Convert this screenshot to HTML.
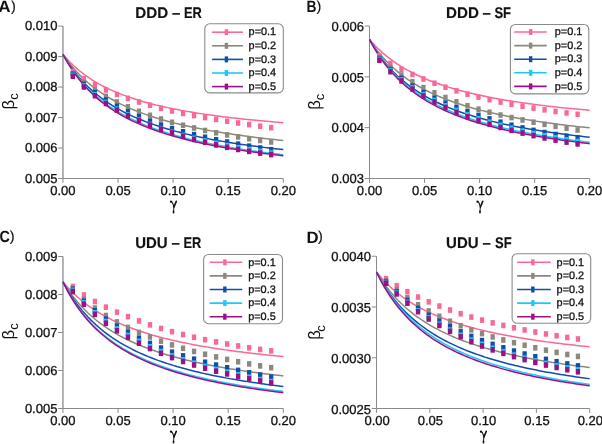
<!DOCTYPE html><html><head><meta charset="utf-8"><style>html,body{margin:0;padding:0;background:#fff;width:602px;height:444px;overflow:hidden}</style></head><body><svg width="602" height="444" viewBox="0 0 602 444" text-rendering="geometricPrecision" style="position:absolute;left:0;top:0;will-change:transform">
<rect width="602" height="444" fill="#fff"/>
<g stroke="#8a8a8a" fill="none">
<path d="M62.95,26.1V178.5" stroke-width="1.3"/>
<path d="M62.95,178.5H283.3" stroke-width="1.0"/>
<path d="M58.15,178.50H62.95" stroke-width="1.0"/>
<path d="M58.15,148.02H62.95" stroke-width="1.0"/>
<path d="M58.15,117.54H62.95" stroke-width="1.0"/>
<path d="M58.15,87.06H62.95" stroke-width="1.0"/>
<path d="M58.15,56.58H62.95" stroke-width="1.0"/>
<path d="M58.15,26.10H62.95" stroke-width="1.0"/>
<path d="M62.95,178.5V182.90" stroke-width="1.0"/>
<path d="M118.04,178.5V182.90" stroke-width="1.0"/>
<path d="M173.12,178.5V182.90" stroke-width="1.0"/>
<path d="M228.21,178.5V182.90" stroke-width="1.0"/>
<path d="M283.30,178.5V182.90" stroke-width="1.0"/>
</g>
<g font-family='"Liberation Sans", sans-serif' font-size="13" fill="#111" stroke="#111" stroke-width="0.3">
<text x="57.45" y="182.80" text-anchor="end">0.005</text>
<text x="57.45" y="152.32" text-anchor="end">0.006</text>
<text x="57.45" y="121.84" text-anchor="end">0.007</text>
<text x="57.45" y="91.36" text-anchor="end">0.008</text>
<text x="57.45" y="60.88" text-anchor="end">0.009</text>
<text x="57.45" y="30.40" text-anchor="end">0.010</text>
<text x="62.95" y="194.80" text-anchor="middle">0.00</text>
<text x="118.04" y="194.80" text-anchor="middle">0.05</text>
<text x="173.12" y="194.80" text-anchor="middle">0.10</text>
<text x="228.21" y="194.80" text-anchor="middle">0.15</text>
<text x="283.30" y="194.80" text-anchor="middle">0.20</text>
</g>
<text x="135.25" y="17.7" font-family='"Liberation Sans", sans-serif' font-weight="bold" font-size="15.5" fill="#111" stroke="#111" stroke-width="0.15" textLength="32.85" lengthAdjust="spacingAndGlyphs">DDD</text>
<text x="172.10" y="17.7" font-family='"Liberation Sans", sans-serif' font-weight="bold" font-size="15.5" fill="#111" stroke="#111" stroke-width="0.15" textLength="8.30" lengthAdjust="spacingAndGlyphs">–</text>
<text x="184.00" y="17.7" font-family='"Liberation Sans", sans-serif' font-weight="bold" font-size="15.5" fill="#111" stroke="#111" stroke-width="0.15" textLength="17.85" lengthAdjust="spacingAndGlyphs">ER</text>
<text x="-1.70" y="11.9" font-family='"Liberation Sans", sans-serif' font-weight="bold" font-size="16.3" fill="#111" textLength="12.30" lengthAdjust="spacingAndGlyphs">A</text>
<text x="10.9" y="10.9" font-family='"Liberation Sans", sans-serif' font-size="14.5" fill="#111" stroke="#111" stroke-width="0.15">)</text>
<g transform="translate(173.53,200.40)" fill="none" stroke="#111" stroke-linecap="round"><circle cx="-2.55" cy="1.3" r="1.1" fill="#111" stroke="none"/><path d="M-2.6,1.2C-1.3,1.2 -0.4,3.2 0.3,6.6" stroke-width="1.1"/><path d="M2.75,0.95L0.45,6.6" stroke-width="1.6"/><path d="M0.35,6.6L0.05,10.5" stroke-width="0.95"/><ellipse cx="0.0" cy="11.5" rx="0.9" ry="1.55" fill="#111" stroke="none"/></g>
<text transform="translate(13.5,101.4) rotate(-90)" font-family='"Liberation Sans", sans-serif' font-size="16.7" fill="#111" text-anchor="middle">β<tspan font-size="13.0" dx="0" dy="4.5">c</tspan></text>
<polyline points="62.95,54.30 65.70,57.52 68.46,60.53 71.21,63.33 73.97,65.96 76.72,68.43 79.48,70.75 82.23,72.94 84.99,75.00 87.74,76.95 90.49,78.80 93.25,80.55 96.00,82.21 98.76,83.80 101.51,85.30 104.27,86.73 107.02,88.10 109.77,89.41 112.53,90.66 115.28,91.85 118.04,93.00 120.79,94.10 123.55,95.15 126.30,96.16 129.06,97.13 131.81,98.07 134.56,98.97 137.32,99.84 140.07,100.68 142.83,101.48 145.58,102.26 148.34,103.01 151.09,103.74 153.84,104.44 156.60,105.12 159.35,105.78 162.11,106.42 164.86,107.04 167.62,107.64 170.37,108.22 173.12,108.78 175.88,109.33 178.63,109.86 181.39,110.38 184.14,110.88 186.90,111.37 189.65,111.84 192.41,112.31 195.16,112.76 197.91,113.19 200.67,113.62 203.42,114.04 206.18,114.44 208.93,114.84 211.69,115.22 214.44,115.60 217.20,115.97 219.95,116.33 222.70,116.68 225.46,117.02 228.21,117.35 230.97,117.68 233.72,118.00 236.48,118.31 239.23,118.62 241.98,118.92 244.74,119.21 247.49,119.50 250.25,119.78 253.00,120.05 255.76,120.32 258.51,120.59 261.26,120.85 264.02,121.10 266.77,121.35 269.53,121.59 272.28,121.83 275.04,122.06 277.79,122.29 280.55,122.52 283.30,122.74" fill="none" stroke="#fc6896" stroke-width="1.5"/>
<polyline points="62.95,54.30 65.70,58.30 68.46,62.03 71.21,65.52 73.97,68.79 76.72,71.87 79.48,74.77 82.23,77.50 84.99,80.08 87.74,82.52 90.49,84.84 93.25,87.03 96.00,89.12 98.76,91.10 101.51,93.00 104.27,94.80 107.02,96.52 109.77,98.17 112.53,99.74 115.28,101.25 118.04,102.69 120.79,104.08 123.55,105.41 126.30,106.69 129.06,107.91 131.81,109.10 134.56,110.24 137.32,111.34 140.07,112.39 142.83,113.42 145.58,114.40 148.34,115.36 151.09,116.28 153.84,117.17 156.60,118.03 159.35,118.87 162.11,119.68 164.86,120.46 167.62,121.22 170.37,121.96 173.12,122.68 175.88,123.38 178.63,124.05 181.39,124.71 184.14,125.35 186.90,125.97 189.65,126.57 192.41,127.16 195.16,127.74 197.91,128.29 200.67,128.84 203.42,129.37 206.18,129.88 208.93,130.39 211.69,130.88 214.44,131.36 217.20,131.83 219.95,132.29 222.70,132.73 225.46,133.17 228.21,133.60 230.97,134.02 233.72,134.42 236.48,134.82 239.23,135.21 241.98,135.59 244.74,135.97 247.49,136.34 250.25,136.69 253.00,137.04 255.76,137.39 258.51,137.73 261.26,138.06 264.02,138.38 266.77,138.70 269.53,139.01 272.28,139.31 275.04,139.61 277.79,139.91 280.55,140.20 283.30,140.48" fill="none" stroke="#8c897b" stroke-width="1.5"/>
<polyline points="62.95,54.30 65.70,58.91 68.46,63.20 71.21,67.19 73.97,70.92 76.72,74.42 79.48,77.70 82.23,80.79 84.99,83.70 87.74,86.44 90.49,89.04 93.25,91.49 96.00,93.82 98.76,96.03 101.51,98.13 104.27,100.13 107.02,102.04 109.77,103.86 112.53,105.59 115.28,107.25 118.04,108.84 120.79,110.37 123.55,111.83 126.30,113.23 129.06,114.57 131.81,115.87 134.56,117.11 137.32,118.31 140.07,119.46 142.83,120.57 145.58,121.64 148.34,122.68 151.09,123.68 153.84,124.65 156.60,125.58 159.35,126.48 162.11,127.36 164.86,128.21 167.62,129.03 170.37,129.82 173.12,130.60 175.88,131.35 178.63,132.07 181.39,132.78 184.14,133.47 186.90,134.13 189.65,134.78 192.41,135.42 195.16,136.03 197.91,136.63 200.67,137.21 203.42,137.78 206.18,138.33 208.93,138.87 211.69,139.40 214.44,139.91 217.20,140.41 219.95,140.90 222.70,141.37 225.46,141.84 228.21,142.30 230.97,142.74 233.72,143.17 236.48,143.60 239.23,144.01 241.98,144.42 244.74,144.82 247.49,145.21 250.25,145.59 253.00,145.96 255.76,146.33 258.51,146.68 261.26,147.03 264.02,147.38 266.77,147.71 269.53,148.04 272.28,148.37 275.04,148.68 277.79,149.00 280.55,149.30 283.30,149.60" fill="none" stroke="#0f4fab" stroke-width="1.5"/>
<polyline points="62.95,54.30 65.70,59.17 68.46,63.70 71.21,67.92 73.97,71.86 76.72,75.56 79.48,79.02 82.23,82.28 84.99,85.34 87.74,88.24 90.49,90.97 93.25,93.56 96.00,96.02 98.76,98.35 101.51,100.56 104.27,102.67 107.02,104.68 109.77,106.60 112.53,108.43 115.28,110.17 118.04,111.85 120.79,113.45 123.55,114.99 126.30,116.46 129.06,117.88 131.81,119.24 134.56,120.55 137.32,121.81 140.07,123.02 142.83,124.19 145.58,125.32 148.34,126.41 151.09,127.46 153.84,128.48 156.60,129.46 159.35,130.41 162.11,131.33 164.86,132.23 167.62,133.09 170.37,133.93 173.12,134.74 175.88,135.53 178.63,136.29 181.39,137.04 184.14,137.76 186.90,138.46 189.65,139.14 192.41,139.81 195.16,140.45 197.91,141.08 200.67,141.69 203.42,142.29 206.18,142.87 208.93,143.44 211.69,143.99 214.44,144.53 217.20,145.05 219.95,145.57 222.70,146.07 225.46,146.56 228.21,147.04 230.97,147.50 233.72,147.96 236.48,148.41 239.23,148.84 241.98,149.27 244.74,149.69 247.49,150.10 250.25,150.50 253.00,150.89 255.76,151.27 258.51,151.65 261.26,152.01 264.02,152.38 266.77,152.73 269.53,153.08 272.28,153.42 275.04,153.75 277.79,154.08 280.55,154.40 283.30,154.71" fill="none" stroke="#20c8f8" stroke-width="1.5"/>
<polyline points="62.95,54.30 65.70,59.37 68.46,64.06 71.21,68.43 73.97,72.50 76.72,76.30 79.48,79.85 82.23,83.19 84.99,86.33 87.74,89.28 90.49,92.07 93.25,94.71 96.00,97.20 98.76,99.56 101.51,101.81 104.27,103.94 107.02,105.97 109.77,107.90 112.53,109.75 115.28,111.51 118.04,113.19 120.79,114.80 123.55,116.34 126.30,117.82 129.06,119.24 131.81,120.60 134.56,121.91 137.32,123.17 140.07,124.38 142.83,125.55 145.58,126.68 148.34,127.76 151.09,128.81 153.84,129.82 156.60,130.80 159.35,131.75 162.11,132.66 164.86,133.55 167.62,134.40 170.37,135.23 173.12,136.04 175.88,136.82 178.63,137.58 181.39,138.31 184.14,139.03 186.90,139.72 189.65,140.40 192.41,141.05 195.16,141.69 197.91,142.31 200.67,142.91 203.42,143.50 206.18,144.08 208.93,144.63 211.69,145.18 214.44,145.71 217.20,146.23 219.95,146.73 222.70,147.23 225.46,147.71 228.21,148.18 230.97,148.64 233.72,149.09 236.48,149.53 239.23,149.96 241.98,150.37 244.74,150.79 247.49,151.19 250.25,151.58 253.00,151.96 255.76,152.34 258.51,152.71 261.26,153.07 264.02,153.42 266.77,153.77 269.53,154.11 272.28,154.44 275.04,154.77 277.79,155.09 280.55,155.40 283.30,155.71" fill="none" stroke="#a00e85" stroke-width="1.5"/>
<rect x="70.72" y="68.70" width="4.3" height="5.6" fill="#fc6896"/>
<rect x="81.74" y="76.10" width="4.3" height="5.6" fill="#fc6896"/>
<rect x="92.75" y="81.99" width="4.3" height="5.6" fill="#fc6896"/>
<rect x="103.77" y="87.15" width="4.3" height="5.6" fill="#fc6896"/>
<rect x="114.79" y="91.60" width="4.3" height="5.6" fill="#fc6896"/>
<rect x="125.81" y="95.56" width="4.3" height="5.6" fill="#fc6896"/>
<rect x="136.82" y="99.19" width="4.3" height="5.6" fill="#fc6896"/>
<rect x="147.84" y="102.51" width="4.3" height="5.6" fill="#fc6896"/>
<rect x="158.86" y="105.51" width="4.3" height="5.6" fill="#fc6896"/>
<rect x="169.88" y="108.20" width="4.3" height="5.6" fill="#fc6896"/>
<rect x="180.89" y="110.59" width="4.3" height="5.6" fill="#fc6896"/>
<rect x="191.91" y="112.75" width="4.3" height="5.6" fill="#fc6896"/>
<rect x="202.93" y="114.73" width="4.3" height="5.6" fill="#fc6896"/>
<rect x="213.95" y="116.59" width="4.3" height="5.6" fill="#fc6896"/>
<rect x="224.96" y="118.40" width="4.3" height="5.6" fill="#fc6896"/>
<rect x="235.98" y="120.16" width="4.3" height="5.6" fill="#fc6896"/>
<rect x="247.00" y="121.83" width="4.3" height="5.6" fill="#fc6896"/>
<rect x="258.01" y="123.41" width="4.3" height="5.6" fill="#fc6896"/>
<rect x="269.03" y="124.90" width="4.3" height="5.6" fill="#fc6896"/>
<rect x="70.72" y="70.70" width="4.3" height="5.6" fill="#8c897b"/>
<rect x="81.74" y="79.73" width="4.3" height="5.6" fill="#8c897b"/>
<rect x="92.75" y="87.08" width="4.3" height="5.6" fill="#8c897b"/>
<rect x="103.77" y="93.57" width="4.3" height="5.6" fill="#8c897b"/>
<rect x="114.79" y="99.15" width="4.3" height="5.6" fill="#8c897b"/>
<rect x="125.81" y="104.03" width="4.3" height="5.6" fill="#8c897b"/>
<rect x="136.82" y="108.49" width="4.3" height="5.6" fill="#8c897b"/>
<rect x="147.84" y="112.54" width="4.3" height="5.6" fill="#8c897b"/>
<rect x="158.86" y="116.21" width="4.3" height="5.6" fill="#8c897b"/>
<rect x="169.88" y="119.50" width="4.3" height="5.6" fill="#8c897b"/>
<rect x="180.89" y="122.47" width="4.3" height="5.6" fill="#8c897b"/>
<rect x="191.91" y="125.18" width="4.3" height="5.6" fill="#8c897b"/>
<rect x="202.93" y="127.67" width="4.3" height="5.6" fill="#8c897b"/>
<rect x="213.95" y="129.96" width="4.3" height="5.6" fill="#8c897b"/>
<rect x="224.96" y="132.10" width="4.3" height="5.6" fill="#8c897b"/>
<rect x="235.98" y="134.10" width="4.3" height="5.6" fill="#8c897b"/>
<rect x="247.00" y="135.96" width="4.3" height="5.6" fill="#8c897b"/>
<rect x="258.01" y="137.67" width="4.3" height="5.6" fill="#8c897b"/>
<rect x="269.03" y="139.20" width="4.3" height="5.6" fill="#8c897b"/>
<rect x="70.72" y="71.50" width="4.3" height="5.6" fill="#0f4fab"/>
<rect x="81.74" y="81.62" width="4.3" height="5.6" fill="#0f4fab"/>
<rect x="92.75" y="89.93" width="4.3" height="5.6" fill="#0f4fab"/>
<rect x="103.77" y="97.29" width="4.3" height="5.6" fill="#0f4fab"/>
<rect x="114.79" y="103.55" width="4.3" height="5.6" fill="#0f4fab"/>
<rect x="125.81" y="108.94" width="4.3" height="5.6" fill="#0f4fab"/>
<rect x="136.82" y="113.84" width="4.3" height="5.6" fill="#0f4fab"/>
<rect x="147.84" y="118.27" width="4.3" height="5.6" fill="#0f4fab"/>
<rect x="158.86" y="122.25" width="4.3" height="5.6" fill="#0f4fab"/>
<rect x="169.88" y="125.80" width="4.3" height="5.6" fill="#0f4fab"/>
<rect x="180.89" y="128.98" width="4.3" height="5.6" fill="#0f4fab"/>
<rect x="191.91" y="131.86" width="4.3" height="5.6" fill="#0f4fab"/>
<rect x="202.93" y="134.49" width="4.3" height="5.6" fill="#0f4fab"/>
<rect x="213.95" y="136.92" width="4.3" height="5.6" fill="#0f4fab"/>
<rect x="224.96" y="139.20" width="4.3" height="5.6" fill="#0f4fab"/>
<rect x="235.98" y="141.36" width="4.3" height="5.6" fill="#0f4fab"/>
<rect x="247.00" y="143.37" width="4.3" height="5.6" fill="#0f4fab"/>
<rect x="258.01" y="145.22" width="4.3" height="5.6" fill="#0f4fab"/>
<rect x="269.03" y="146.90" width="4.3" height="5.6" fill="#0f4fab"/>
<rect x="70.72" y="72.60" width="4.3" height="5.6" fill="#20c8f8"/>
<rect x="81.74" y="83.20" width="4.3" height="5.6" fill="#20c8f8"/>
<rect x="92.75" y="91.93" width="4.3" height="5.6" fill="#20c8f8"/>
<rect x="103.77" y="99.68" width="4.3" height="5.6" fill="#20c8f8"/>
<rect x="114.79" y="106.25" width="4.3" height="5.6" fill="#20c8f8"/>
<rect x="125.81" y="111.91" width="4.3" height="5.6" fill="#20c8f8"/>
<rect x="136.82" y="117.07" width="4.3" height="5.6" fill="#20c8f8"/>
<rect x="147.84" y="121.72" width="4.3" height="5.6" fill="#20c8f8"/>
<rect x="158.86" y="125.86" width="4.3" height="5.6" fill="#20c8f8"/>
<rect x="169.88" y="129.50" width="4.3" height="5.6" fill="#20c8f8"/>
<rect x="180.89" y="132.70" width="4.3" height="5.6" fill="#20c8f8"/>
<rect x="191.91" y="135.58" width="4.3" height="5.6" fill="#20c8f8"/>
<rect x="202.93" y="138.18" width="4.3" height="5.6" fill="#20c8f8"/>
<rect x="213.95" y="140.57" width="4.3" height="5.6" fill="#20c8f8"/>
<rect x="224.96" y="142.80" width="4.3" height="5.6" fill="#20c8f8"/>
<rect x="235.98" y="144.90" width="4.3" height="5.6" fill="#20c8f8"/>
<rect x="247.00" y="146.84" width="4.3" height="5.6" fill="#20c8f8"/>
<rect x="258.01" y="148.61" width="4.3" height="5.6" fill="#20c8f8"/>
<rect x="269.03" y="150.20" width="4.3" height="5.6" fill="#20c8f8"/>
<rect x="70.72" y="73.50" width="4.3" height="5.6" fill="#a00e85"/>
<rect x="81.74" y="84.16" width="4.3" height="5.6" fill="#a00e85"/>
<rect x="92.75" y="92.93" width="4.3" height="5.6" fill="#a00e85"/>
<rect x="103.77" y="100.70" width="4.3" height="5.6" fill="#a00e85"/>
<rect x="114.79" y="107.25" width="4.3" height="5.6" fill="#a00e85"/>
<rect x="125.81" y="112.81" width="4.3" height="5.6" fill="#a00e85"/>
<rect x="136.82" y="117.82" width="4.3" height="5.6" fill="#a00e85"/>
<rect x="147.84" y="122.33" width="4.3" height="5.6" fill="#a00e85"/>
<rect x="158.86" y="126.40" width="4.3" height="5.6" fill="#a00e85"/>
<rect x="169.88" y="130.10" width="4.3" height="5.6" fill="#a00e85"/>
<rect x="180.89" y="133.50" width="4.3" height="5.6" fill="#a00e85"/>
<rect x="191.91" y="136.65" width="4.3" height="5.6" fill="#a00e85"/>
<rect x="202.93" y="139.53" width="4.3" height="5.6" fill="#a00e85"/>
<rect x="213.95" y="142.15" width="4.3" height="5.6" fill="#a00e85"/>
<rect x="224.96" y="144.50" width="4.3" height="5.6" fill="#a00e85"/>
<rect x="235.98" y="146.63" width="4.3" height="5.6" fill="#a00e85"/>
<rect x="247.00" y="148.58" width="4.3" height="5.6" fill="#a00e85"/>
<rect x="258.01" y="150.31" width="4.3" height="5.6" fill="#a00e85"/>
<rect x="269.03" y="151.80" width="4.3" height="5.6" fill="#a00e85"/>
<rect x="204.8" y="23.8" width="78.50" height="69.10" rx="5" fill="#fff" stroke="#8a8a8a" stroke-width="1.1"/>
<path d="M212.1,32.20H242.9" stroke="#fc6896" stroke-width="1.6"/>
<rect x="224.70" y="29.20" width="3.4" height="6.0" fill="#fc6896"/>
<text x="248.6" y="35.40" font-family='"Liberation Sans", sans-serif' font-size="10.9" fill="#111" stroke="#111" stroke-width="0.3">p=0.1</text>
<path d="M212.1,45.80H242.9" stroke="#8c897b" stroke-width="1.6"/>
<rect x="224.70" y="42.80" width="3.4" height="6.0" fill="#8c897b"/>
<text x="248.6" y="49.00" font-family='"Liberation Sans", sans-serif' font-size="10.9" fill="#111" stroke="#111" stroke-width="0.3">p=0.2</text>
<path d="M212.1,59.40H242.9" stroke="#0f4fab" stroke-width="1.6"/>
<rect x="224.70" y="56.40" width="3.4" height="6.0" fill="#0f4fab"/>
<text x="248.6" y="62.60" font-family='"Liberation Sans", sans-serif' font-size="10.9" fill="#111" stroke="#111" stroke-width="0.3">p=0.3</text>
<path d="M212.1,73.00H242.9" stroke="#20c8f8" stroke-width="1.6"/>
<rect x="224.70" y="70.00" width="3.4" height="6.0" fill="#20c8f8"/>
<text x="248.6" y="76.20" font-family='"Liberation Sans", sans-serif' font-size="10.9" fill="#111" stroke="#111" stroke-width="0.3">p=0.4</text>
<path d="M212.1,86.60H242.9" stroke="#a00e85" stroke-width="1.6"/>
<rect x="224.70" y="83.60" width="3.4" height="6.0" fill="#a00e85"/>
<text x="248.6" y="89.80" font-family='"Liberation Sans", sans-serif' font-size="10.9" fill="#111" stroke="#111" stroke-width="0.3">p=0.5</text>
<g stroke="#8a8a8a" fill="none">
<path d="M369.5,26.0V178.5" stroke-width="1.0"/>
<path d="M369.5,178.5H589.7" stroke-width="1.0"/>
<path d="M364.70,178.50H369.5" stroke-width="1.0"/>
<path d="M364.70,127.67H369.5" stroke-width="1.0"/>
<path d="M364.70,76.83H369.5" stroke-width="1.0"/>
<path d="M364.70,26.00H369.5" stroke-width="1.0"/>
<path d="M369.50,178.5V182.90" stroke-width="1.0"/>
<path d="M424.55,178.5V182.90" stroke-width="1.0"/>
<path d="M479.60,178.5V182.90" stroke-width="1.0"/>
<path d="M534.65,178.5V182.90" stroke-width="1.0"/>
<path d="M589.70,178.5V182.90" stroke-width="1.0"/>
</g>
<g font-family='"Liberation Sans", sans-serif' font-size="13" fill="#111" stroke="#111" stroke-width="0.3">
<text x="364.00" y="183.20" text-anchor="end">0.003</text>
<text x="364.00" y="132.37" text-anchor="end">0.004</text>
<text x="364.00" y="81.53" text-anchor="end">0.005</text>
<text x="364.00" y="30.70" text-anchor="end">0.006</text>
<text x="369.50" y="194.80" text-anchor="middle">0.00</text>
<text x="424.55" y="194.80" text-anchor="middle">0.05</text>
<text x="479.60" y="194.80" text-anchor="middle">0.10</text>
<text x="534.65" y="194.80" text-anchor="middle">0.15</text>
<text x="589.70" y="194.80" text-anchor="middle">0.20</text>
</g>
<text x="446.00" y="17.7" font-family='"Liberation Sans", sans-serif' font-weight="bold" font-size="15.5" fill="#111" stroke="#111" stroke-width="0.15" textLength="32.90" lengthAdjust="spacingAndGlyphs">DDD</text>
<text x="482.50" y="17.7" font-family='"Liberation Sans", sans-serif' font-weight="bold" font-size="15.5" fill="#111" stroke="#111" stroke-width="0.15" textLength="8.30" lengthAdjust="spacingAndGlyphs">–</text>
<text x="494.40" y="17.7" font-family='"Liberation Sans", sans-serif' font-weight="bold" font-size="15.5" fill="#111" stroke="#111" stroke-width="0.15" textLength="16.60" lengthAdjust="spacingAndGlyphs">SF</text>
<text x="306.40" y="11.9" font-family='"Liberation Sans", sans-serif' font-weight="bold" font-size="16.3" fill="#111" textLength="10.00" lengthAdjust="spacingAndGlyphs">B</text>
<text x="316.6" y="10.9" font-family='"Liberation Sans", sans-serif' font-size="14.5" fill="#111" stroke="#111" stroke-width="0.15">)</text>
<g transform="translate(480.00,200.40)" fill="none" stroke="#111" stroke-linecap="round"><circle cx="-2.55" cy="1.3" r="1.1" fill="#111" stroke="none"/><path d="M-2.6,1.2C-1.3,1.2 -0.4,3.2 0.3,6.6" stroke-width="1.1"/><path d="M2.75,0.95L0.45,6.6" stroke-width="1.6"/><path d="M0.35,6.6L0.05,10.5" stroke-width="0.95"/><ellipse cx="0.0" cy="11.5" rx="0.9" ry="1.55" fill="#111" stroke="none"/></g>
<text transform="translate(319.8,101.8) rotate(-90)" font-family='"Liberation Sans", sans-serif' font-size="16.7" fill="#111" text-anchor="middle">β<tspan font-size="13.0" dx="0" dy="4.5">c</tspan></text>
<polyline points="369.50,39.40 372.25,42.55 375.00,45.50 377.76,48.28 380.51,50.89 383.26,53.35 386.01,55.67 388.77,57.87 391.52,59.95 394.27,61.93 397.02,63.81 399.78,65.59 402.53,67.29 405.28,68.91 408.04,70.46 410.79,71.94 413.54,73.35 416.29,74.71 419.05,76.01 421.80,77.25 424.55,78.44 427.30,79.59 430.06,80.70 432.81,81.76 435.56,82.78 438.31,83.77 441.06,84.72 443.82,85.63 446.57,86.52 449.32,87.37 452.08,88.20 454.83,89.00 457.58,89.77 460.33,90.52 463.09,91.25 465.84,91.95 468.59,92.63 471.34,93.29 474.10,93.94 476.85,94.56 479.60,95.16 482.35,95.75 485.11,96.33 487.86,96.88 490.61,97.42 493.36,97.95 496.12,98.46 498.87,98.96 501.62,99.45 504.37,99.93 507.12,100.39 509.88,100.84 512.63,101.28 515.38,101.71 518.13,102.13 520.89,102.54 523.64,102.94 526.39,103.33 529.14,103.71 531.90,104.09 534.65,104.45 537.40,104.81 540.15,105.16 542.91,105.50 545.66,105.83 548.41,106.16 551.17,106.48 553.92,106.80 556.67,107.10 559.42,107.40 562.18,107.70 564.93,107.99 567.68,108.27 570.43,108.55 573.19,108.83 575.94,109.09 578.69,109.36 581.44,109.61 584.20,109.87 586.95,110.11 589.70,110.36" fill="none" stroke="#fc6896" stroke-width="1.5"/>
<polyline points="369.50,39.40 372.25,43.59 375.00,47.49 377.76,51.14 380.51,54.55 383.26,57.75 386.01,60.76 388.77,63.60 391.52,66.27 394.27,68.80 397.02,71.19 399.78,73.45 402.53,75.61 405.28,77.65 408.04,79.60 410.79,81.45 413.54,83.22 416.29,84.91 419.05,86.52 421.80,88.07 424.55,89.55 427.30,90.97 430.06,92.33 432.81,93.63 435.56,94.89 438.31,96.10 441.06,97.26 443.82,98.38 446.57,99.46 449.32,100.50 452.08,101.50 454.83,102.47 457.58,103.41 460.33,104.32 463.09,105.19 465.84,106.04 468.59,106.86 471.34,107.66 474.10,108.43 476.85,109.18 479.60,109.91 482.35,110.61 485.11,111.30 487.86,111.96 490.61,112.61 493.36,113.24 496.12,113.85 498.87,114.45 501.62,115.03 504.37,115.59 507.12,116.14 509.88,116.68 512.63,117.20 515.38,117.71 518.13,118.20 520.89,118.69 523.64,119.16 526.39,119.62 529.14,120.07 531.90,120.51 534.65,120.94 537.40,121.37 540.15,121.78 542.91,122.18 545.66,122.57 548.41,122.96 551.17,123.33 553.92,123.70 556.67,124.06 559.42,124.42 562.18,124.76 564.93,125.10 567.68,125.43 570.43,125.76 573.19,126.08 575.94,126.39 578.69,126.70 581.44,127.00 584.20,127.29 586.95,127.58 589.70,127.87" fill="none" stroke="#8c897b" stroke-width="1.5"/>
<polyline points="369.50,39.40 372.25,44.21 375.00,48.68 377.76,52.83 380.51,56.71 383.26,60.34 386.01,63.75 388.77,66.94 391.52,69.95 394.27,72.78 397.02,75.46 399.78,77.99 402.53,80.39 405.28,82.67 408.04,84.83 410.79,86.89 413.54,88.85 416.29,90.71 419.05,92.49 421.80,94.20 424.55,95.83 427.30,97.38 430.06,98.88 432.81,100.31 435.56,101.69 438.31,103.01 441.06,104.28 443.82,105.50 446.57,106.68 449.32,107.82 452.08,108.91 454.83,109.97 457.58,110.98 460.33,111.97 463.09,112.92 465.84,113.84 468.59,114.73 471.34,115.59 474.10,116.43 476.85,117.24 479.60,118.03 482.35,118.79 485.11,119.53 487.86,120.24 490.61,120.94 493.36,121.62 496.12,122.28 498.87,122.92 501.62,123.54 504.37,124.15 507.12,124.74 509.88,125.32 512.63,125.88 515.38,126.42 518.13,126.96 520.89,127.48 523.64,127.98 526.39,128.48 529.14,128.96 531.90,129.43 534.65,129.89 537.40,130.34 540.15,130.78 542.91,131.21 545.66,131.63 548.41,132.04 551.17,132.45 553.92,132.84 556.67,133.23 559.42,133.60 562.18,133.97 564.93,134.33 567.68,134.69 570.43,135.03 573.19,135.37 575.94,135.71 578.69,136.03 581.44,136.36 584.20,136.67 586.95,136.98 589.70,137.28" fill="none" stroke="#0f4fab" stroke-width="1.5"/>
<polyline points="369.50,39.40 372.25,44.34 375.00,48.93 377.76,53.22 380.51,57.23 383.26,60.98 386.01,64.51 388.77,67.83 391.52,70.96 394.27,73.91 397.02,76.71 399.78,79.35 402.53,81.86 405.28,84.25 408.04,86.52 410.79,88.68 413.54,90.73 416.29,92.70 419.05,94.57 421.80,96.37 424.55,98.09 427.30,99.73 430.06,101.31 432.81,102.83 435.56,104.28 438.31,105.68 441.06,107.03 443.82,108.33 446.57,109.58 449.32,110.78 452.08,111.94 454.83,113.07 457.58,114.15 460.33,115.20 463.09,116.21 465.84,117.19 468.59,118.14 471.34,119.06 474.10,119.95 476.85,120.82 479.60,121.65 482.35,122.47 485.11,123.26 487.86,124.02 490.61,124.77 493.36,125.50 496.12,126.20 498.87,126.89 501.62,127.55 504.37,128.20 507.12,128.84 509.88,129.45 512.63,130.05 515.38,130.64 518.13,131.21 520.89,131.77 523.64,132.31 526.39,132.85 529.14,133.36 531.90,133.87 534.65,134.37 537.40,134.85 540.15,135.32 542.91,135.78 545.66,136.24 548.41,136.68 551.17,137.11 553.92,137.53 556.67,137.95 559.42,138.36 562.18,138.75 564.93,139.14 567.68,139.52 570.43,139.90 573.19,140.26 575.94,140.62 578.69,140.98 581.44,141.32 584.20,141.66 586.95,141.99 589.70,142.32" fill="none" stroke="#20c8f8" stroke-width="1.5"/>
<polyline points="369.50,39.40 372.25,44.55 375.00,49.34 377.76,53.79 380.51,57.94 383.26,61.82 386.01,65.45 388.77,68.87 391.52,72.08 394.27,75.10 397.02,77.96 399.78,80.66 402.53,83.22 405.28,85.65 408.04,87.95 410.79,90.14 413.54,92.23 416.29,94.22 419.05,96.11 421.80,97.92 424.55,99.66 427.30,101.32 430.06,102.91 432.81,104.43 435.56,105.89 438.31,107.30 441.06,108.65 443.82,109.95 446.57,111.20 449.32,112.41 452.08,113.57 454.83,114.69 457.58,115.77 460.33,116.82 463.09,117.83 465.84,118.80 468.59,119.75 471.34,120.67 474.10,121.55 476.85,122.41 479.60,123.24 482.35,124.05 485.11,124.84 487.86,125.60 490.61,126.34 493.36,127.06 496.12,127.76 498.87,128.44 501.62,129.10 504.37,129.74 507.12,130.37 509.88,130.98 512.63,131.57 515.38,132.15 518.13,132.71 520.89,133.27 523.64,133.80 526.39,134.33 529.14,134.84 531.90,135.34 534.65,135.83 537.40,136.30 540.15,136.77 542.91,137.22 545.66,137.67 548.41,138.10 551.17,138.53 553.92,138.95 556.67,139.36 559.42,139.75 562.18,140.15 564.93,140.53 567.68,140.90 570.43,141.27 573.19,141.63 575.94,141.98 578.69,142.33 581.44,142.67 584.20,143.00 586.95,143.33 589.70,143.65" fill="none" stroke="#a00e85" stroke-width="1.5"/>
<rect x="377.26" y="53.00" width="4.3" height="5.6" fill="#fc6896"/>
<rect x="388.27" y="60.59" width="4.3" height="5.6" fill="#fc6896"/>
<rect x="399.28" y="66.51" width="4.3" height="5.6" fill="#fc6896"/>
<rect x="410.29" y="71.64" width="4.3" height="5.6" fill="#fc6896"/>
<rect x="421.30" y="76.20" width="4.3" height="5.6" fill="#fc6896"/>
<rect x="432.31" y="80.42" width="4.3" height="5.6" fill="#fc6896"/>
<rect x="443.32" y="84.38" width="4.3" height="5.6" fill="#fc6896"/>
<rect x="454.33" y="88.04" width="4.3" height="5.6" fill="#fc6896"/>
<rect x="465.34" y="91.36" width="4.3" height="5.6" fill="#fc6896"/>
<rect x="476.35" y="94.30" width="4.3" height="5.6" fill="#fc6896"/>
<rect x="487.36" y="96.91" width="4.3" height="5.6" fill="#fc6896"/>
<rect x="498.37" y="99.28" width="4.3" height="5.6" fill="#fc6896"/>
<rect x="509.38" y="101.44" width="4.3" height="5.6" fill="#fc6896"/>
<rect x="520.39" y="103.44" width="4.3" height="5.6" fill="#fc6896"/>
<rect x="531.40" y="105.30" width="4.3" height="5.6" fill="#fc6896"/>
<rect x="542.41" y="107.05" width="4.3" height="5.6" fill="#fc6896"/>
<rect x="553.42" y="108.67" width="4.3" height="5.6" fill="#fc6896"/>
<rect x="564.43" y="110.16" width="4.3" height="5.6" fill="#fc6896"/>
<rect x="575.44" y="111.50" width="4.3" height="5.6" fill="#fc6896"/>
<rect x="377.26" y="55.00" width="4.3" height="5.6" fill="#8c897b"/>
<rect x="388.27" y="64.59" width="4.3" height="5.6" fill="#8c897b"/>
<rect x="399.28" y="72.26" width="4.3" height="5.6" fill="#8c897b"/>
<rect x="410.29" y="78.99" width="4.3" height="5.6" fill="#8c897b"/>
<rect x="421.30" y="84.80" width="4.3" height="5.6" fill="#8c897b"/>
<rect x="432.31" y="89.96" width="4.3" height="5.6" fill="#8c897b"/>
<rect x="443.32" y="94.71" width="4.3" height="5.6" fill="#8c897b"/>
<rect x="454.33" y="99.03" width="4.3" height="5.6" fill="#8c897b"/>
<rect x="465.34" y="102.93" width="4.3" height="5.6" fill="#8c897b"/>
<rect x="476.35" y="106.40" width="4.3" height="5.6" fill="#8c897b"/>
<rect x="487.36" y="109.47" width="4.3" height="5.6" fill="#8c897b"/>
<rect x="498.37" y="112.25" width="4.3" height="5.6" fill="#8c897b"/>
<rect x="509.38" y="114.79" width="4.3" height="5.6" fill="#8c897b"/>
<rect x="520.39" y="117.15" width="4.3" height="5.6" fill="#8c897b"/>
<rect x="531.40" y="119.40" width="4.3" height="5.6" fill="#8c897b"/>
<rect x="542.41" y="121.55" width="4.3" height="5.6" fill="#8c897b"/>
<rect x="553.42" y="123.58" width="4.3" height="5.6" fill="#8c897b"/>
<rect x="564.43" y="125.46" width="4.3" height="5.6" fill="#8c897b"/>
<rect x="575.44" y="127.20" width="4.3" height="5.6" fill="#8c897b"/>
<rect x="377.26" y="55.80" width="4.3" height="5.6" fill="#0f4fab"/>
<rect x="388.27" y="66.80" width="4.3" height="5.6" fill="#0f4fab"/>
<rect x="399.28" y="75.64" width="4.3" height="5.6" fill="#0f4fab"/>
<rect x="410.29" y="83.39" width="4.3" height="5.6" fill="#0f4fab"/>
<rect x="421.30" y="89.90" width="4.3" height="5.6" fill="#0f4fab"/>
<rect x="432.31" y="95.42" width="4.3" height="5.6" fill="#0f4fab"/>
<rect x="443.32" y="100.36" width="4.3" height="5.6" fill="#0f4fab"/>
<rect x="454.33" y="104.81" width="4.3" height="5.6" fill="#0f4fab"/>
<rect x="465.34" y="108.86" width="4.3" height="5.6" fill="#0f4fab"/>
<rect x="476.35" y="112.60" width="4.3" height="5.6" fill="#0f4fab"/>
<rect x="487.36" y="116.11" width="4.3" height="5.6" fill="#0f4fab"/>
<rect x="498.37" y="119.40" width="4.3" height="5.6" fill="#0f4fab"/>
<rect x="509.38" y="122.43" width="4.3" height="5.6" fill="#0f4fab"/>
<rect x="520.39" y="125.18" width="4.3" height="5.6" fill="#0f4fab"/>
<rect x="531.40" y="127.60" width="4.3" height="5.6" fill="#0f4fab"/>
<rect x="542.41" y="129.76" width="4.3" height="5.6" fill="#0f4fab"/>
<rect x="553.42" y="131.72" width="4.3" height="5.6" fill="#0f4fab"/>
<rect x="564.43" y="133.45" width="4.3" height="5.6" fill="#0f4fab"/>
<rect x="575.44" y="134.90" width="4.3" height="5.6" fill="#0f4fab"/>
<rect x="377.26" y="56.60" width="4.3" height="5.6" fill="#20c8f8"/>
<rect x="388.27" y="67.91" width="4.3" height="5.6" fill="#20c8f8"/>
<rect x="399.28" y="77.05" width="4.3" height="5.6" fill="#20c8f8"/>
<rect x="410.29" y="85.10" width="4.3" height="5.6" fill="#20c8f8"/>
<rect x="421.30" y="91.90" width="4.3" height="5.6" fill="#20c8f8"/>
<rect x="432.31" y="97.73" width="4.3" height="5.6" fill="#20c8f8"/>
<rect x="443.32" y="103.00" width="4.3" height="5.6" fill="#20c8f8"/>
<rect x="454.33" y="107.76" width="4.3" height="5.6" fill="#20c8f8"/>
<rect x="465.34" y="112.04" width="4.3" height="5.6" fill="#20c8f8"/>
<rect x="476.35" y="115.90" width="4.3" height="5.6" fill="#20c8f8"/>
<rect x="487.36" y="119.40" width="4.3" height="5.6" fill="#20c8f8"/>
<rect x="498.37" y="122.61" width="4.3" height="5.6" fill="#20c8f8"/>
<rect x="509.38" y="125.54" width="4.3" height="5.6" fill="#20c8f8"/>
<rect x="520.39" y="128.23" width="4.3" height="5.6" fill="#20c8f8"/>
<rect x="531.40" y="130.70" width="4.3" height="5.6" fill="#20c8f8"/>
<rect x="542.41" y="132.99" width="4.3" height="5.6" fill="#20c8f8"/>
<rect x="553.42" y="135.10" width="4.3" height="5.6" fill="#20c8f8"/>
<rect x="564.43" y="137.01" width="4.3" height="5.6" fill="#20c8f8"/>
<rect x="575.44" y="138.70" width="4.3" height="5.6" fill="#20c8f8"/>
<rect x="377.26" y="57.50" width="4.3" height="5.6" fill="#a00e85"/>
<rect x="388.27" y="68.89" width="4.3" height="5.6" fill="#a00e85"/>
<rect x="399.28" y="78.13" width="4.3" height="5.6" fill="#a00e85"/>
<rect x="410.29" y="86.28" width="4.3" height="5.6" fill="#a00e85"/>
<rect x="421.30" y="93.20" width="4.3" height="5.6" fill="#a00e85"/>
<rect x="432.31" y="99.18" width="4.3" height="5.6" fill="#a00e85"/>
<rect x="443.32" y="104.62" width="4.3" height="5.6" fill="#a00e85"/>
<rect x="454.33" y="109.54" width="4.3" height="5.6" fill="#a00e85"/>
<rect x="465.34" y="113.95" width="4.3" height="5.6" fill="#a00e85"/>
<rect x="476.35" y="117.90" width="4.3" height="5.6" fill="#a00e85"/>
<rect x="487.36" y="121.44" width="4.3" height="5.6" fill="#a00e85"/>
<rect x="498.37" y="124.65" width="4.3" height="5.6" fill="#a00e85"/>
<rect x="509.38" y="127.59" width="4.3" height="5.6" fill="#a00e85"/>
<rect x="520.39" y="130.29" width="4.3" height="5.6" fill="#a00e85"/>
<rect x="531.40" y="132.80" width="4.3" height="5.6" fill="#a00e85"/>
<rect x="542.41" y="135.15" width="4.3" height="5.6" fill="#a00e85"/>
<rect x="553.42" y="137.33" width="4.3" height="5.6" fill="#a00e85"/>
<rect x="564.43" y="139.32" width="4.3" height="5.6" fill="#a00e85"/>
<rect x="575.44" y="141.10" width="4.3" height="5.6" fill="#a00e85"/>
<rect x="510.4" y="24.5" width="78.40" height="69.40" rx="5" fill="#fff" stroke="#8a8a8a" stroke-width="1.1"/>
<path d="M514.2,32.00H546.7" stroke="#fc6896" stroke-width="1.6"/>
<rect x="528.95" y="29.00" width="3.4" height="6.0" fill="#fc6896"/>
<text x="554.8" y="35.20" font-family='"Liberation Sans", sans-serif' font-size="10.9" fill="#111" stroke="#111" stroke-width="0.3">p=0.1</text>
<path d="M514.2,45.60H546.7" stroke="#8c897b" stroke-width="1.6"/>
<rect x="528.95" y="42.60" width="3.4" height="6.0" fill="#8c897b"/>
<text x="554.8" y="48.80" font-family='"Liberation Sans", sans-serif' font-size="10.9" fill="#111" stroke="#111" stroke-width="0.3">p=0.2</text>
<path d="M514.2,59.20H546.7" stroke="#0f4fab" stroke-width="1.6"/>
<rect x="528.95" y="56.20" width="3.4" height="6.0" fill="#0f4fab"/>
<text x="554.8" y="62.40" font-family='"Liberation Sans", sans-serif' font-size="10.9" fill="#111" stroke="#111" stroke-width="0.3">p=0.3</text>
<path d="M514.2,72.80H546.7" stroke="#20c8f8" stroke-width="1.6"/>
<rect x="528.95" y="69.80" width="3.4" height="6.0" fill="#20c8f8"/>
<text x="554.8" y="76.00" font-family='"Liberation Sans", sans-serif' font-size="10.9" fill="#111" stroke="#111" stroke-width="0.3">p=0.4</text>
<path d="M514.2,86.40H546.7" stroke="#a00e85" stroke-width="1.6"/>
<rect x="528.95" y="83.40" width="3.4" height="6.0" fill="#a00e85"/>
<text x="554.8" y="89.60" font-family='"Liberation Sans", sans-serif' font-size="10.9" fill="#111" stroke="#111" stroke-width="0.3">p=0.5</text>
<g stroke="#8a8a8a" fill="none">
<path d="M62.95,256.5V408.5" stroke-width="1.3"/>
<path d="M62.95,408.5H283.3" stroke-width="1.0"/>
<path d="M58.15,408.50H62.95" stroke-width="1.0"/>
<path d="M58.15,370.50H62.95" stroke-width="1.0"/>
<path d="M58.15,332.50H62.95" stroke-width="1.0"/>
<path d="M58.15,294.50H62.95" stroke-width="1.0"/>
<path d="M58.15,256.50H62.95" stroke-width="1.0"/>
<path d="M62.95,408.5V412.90" stroke-width="1.0"/>
<path d="M118.04,408.5V412.90" stroke-width="1.0"/>
<path d="M173.12,408.5V412.90" stroke-width="1.0"/>
<path d="M228.21,408.5V412.90" stroke-width="1.0"/>
<path d="M283.30,408.5V412.90" stroke-width="1.0"/>
</g>
<g font-family='"Liberation Sans", sans-serif' font-size="13" fill="#111" stroke="#111" stroke-width="0.3">
<text x="57.45" y="412.80" text-anchor="end">0.005</text>
<text x="57.45" y="374.80" text-anchor="end">0.006</text>
<text x="57.45" y="336.80" text-anchor="end">0.007</text>
<text x="57.45" y="298.80" text-anchor="end">0.008</text>
<text x="57.45" y="260.80" text-anchor="end">0.009</text>
<text x="62.95" y="424.80" text-anchor="middle">0.00</text>
<text x="118.04" y="424.80" text-anchor="middle">0.05</text>
<text x="173.12" y="424.80" text-anchor="middle">0.10</text>
<text x="228.21" y="424.80" text-anchor="middle">0.15</text>
<text x="283.30" y="424.80" text-anchor="middle">0.20</text>
</g>
<text x="135.20" y="247.6" font-family='"Liberation Sans", sans-serif' font-weight="bold" font-size="15.5" fill="#111" stroke="#111" stroke-width="0.15" textLength="32.40" lengthAdjust="spacingAndGlyphs">UDU</text>
<text x="171.50" y="247.6" font-family='"Liberation Sans", sans-serif' font-weight="bold" font-size="15.5" fill="#111" stroke="#111" stroke-width="0.15" textLength="8.30" lengthAdjust="spacingAndGlyphs">–</text>
<text x="183.40" y="247.6" font-family='"Liberation Sans", sans-serif' font-weight="bold" font-size="15.5" fill="#111" stroke="#111" stroke-width="0.15" textLength="17.80" lengthAdjust="spacingAndGlyphs">ER</text>
<text x="-0.60" y="242.3" font-family='"Liberation Sans", sans-serif' font-weight="bold" font-size="16.3" fill="#111" textLength="10.40" lengthAdjust="spacingAndGlyphs">C</text>
<text x="9.8" y="240.9" font-family='"Liberation Sans", sans-serif' font-size="14.5" fill="#111" stroke="#111" stroke-width="0.15">)</text>
<g transform="translate(173.53,430.40)" fill="none" stroke="#111" stroke-linecap="round"><circle cx="-2.55" cy="1.3" r="1.1" fill="#111" stroke="none"/><path d="M-2.6,1.2C-1.3,1.2 -0.4,3.2 0.3,6.6" stroke-width="1.1"/><path d="M2.75,0.95L0.45,6.6" stroke-width="1.6"/><path d="M0.35,6.6L0.05,10.5" stroke-width="0.95"/><ellipse cx="0.0" cy="11.5" rx="0.9" ry="1.55" fill="#111" stroke="none"/></g>
<text transform="translate(13.5,331.4) rotate(-90)" font-family='"Liberation Sans", sans-serif' font-size="16.7" fill="#111" text-anchor="middle">β<tspan font-size="13.0" dx="0" dy="4.5">c</tspan></text>
<polyline points="62.95,281.80 65.70,285.07 68.46,288.13 71.21,291.01 73.97,293.73 76.72,296.30 79.48,298.72 82.23,301.02 84.99,303.20 87.74,305.27 90.49,307.23 93.25,309.10 96.00,310.89 98.76,312.59 101.51,314.22 104.27,315.77 107.02,317.26 109.77,318.69 112.53,320.06 115.28,321.37 118.04,322.63 120.79,323.84 123.55,325.01 126.30,326.13 129.06,327.21 131.81,328.26 134.56,329.26 137.32,330.23 140.07,331.17 142.83,332.08 145.58,332.96 148.34,333.80 151.09,334.63 153.84,335.42 156.60,336.19 159.35,336.94 162.11,337.67 164.86,338.37 167.62,339.05 170.37,339.72 173.12,340.36 175.88,340.99 178.63,341.60 181.39,342.19 184.14,342.77 186.90,343.33 189.65,343.88 192.41,344.41 195.16,344.93 197.91,345.44 200.67,345.93 203.42,346.41 206.18,346.88 208.93,347.34 211.69,347.79 214.44,348.23 217.20,348.65 219.95,349.07 222.70,349.48 225.46,349.88 228.21,350.27 230.97,350.65 233.72,351.03 236.48,351.39 239.23,351.75 241.98,352.10 244.74,352.44 247.49,352.78 250.25,353.11 253.00,353.43 255.76,353.75 258.51,354.06 261.26,354.36 264.02,354.66 266.77,354.96 269.53,355.24 272.28,355.52 275.04,355.80 277.79,356.07 280.55,356.34 283.30,356.60" fill="none" stroke="#fc6896" stroke-width="1.5"/>
<polyline points="62.95,281.80 65.70,286.19 68.46,290.29 71.21,294.12 73.97,297.71 76.72,301.09 79.48,304.26 82.23,307.26 84.99,310.08 87.74,312.76 90.49,315.29 93.25,317.69 96.00,319.97 98.76,322.14 101.51,324.21 104.27,326.18 107.02,328.06 109.77,329.86 112.53,331.57 115.28,333.22 118.04,334.80 120.79,336.31 123.55,337.76 126.30,339.15 129.06,340.50 131.81,341.79 134.56,343.03 137.32,344.22 140.07,345.38 142.83,346.49 145.58,347.57 148.34,348.61 151.09,349.61 153.84,350.58 156.60,351.52 159.35,352.43 162.11,353.31 164.86,354.17 167.62,354.99 170.37,355.80 173.12,356.58 175.88,357.33 178.63,358.07 181.39,358.78 184.14,359.48 186.90,360.16 189.65,360.81 192.41,361.45 195.16,362.08 197.91,362.68 200.67,363.27 203.42,363.85 206.18,364.41 208.93,364.96 211.69,365.49 214.44,366.02 217.20,366.53 219.95,367.02 222.70,367.51 225.46,367.98 228.21,368.45 230.97,368.90 233.72,369.34 236.48,369.78 239.23,370.20 241.98,370.62 244.74,371.02 247.49,371.42 250.25,371.81 253.00,372.19 255.76,372.56 258.51,372.93 261.26,373.29 264.02,373.64 266.77,373.98 269.53,374.32 272.28,374.65 275.04,374.98 277.79,375.30 280.55,375.61 283.30,375.92" fill="none" stroke="#8c897b" stroke-width="1.5"/>
<polyline points="62.95,281.80 65.70,286.80 68.46,291.45 71.21,295.80 73.97,299.86 76.72,303.67 79.48,307.25 82.23,310.62 84.99,313.80 87.74,316.80 90.49,319.63 93.25,322.32 96.00,324.87 98.76,327.30 101.51,329.60 104.27,331.80 107.02,333.89 109.77,335.89 112.53,337.80 115.28,339.63 118.04,341.38 120.79,343.05 123.55,344.66 126.30,346.20 129.06,347.69 131.81,349.11 134.56,350.48 137.32,351.81 140.07,353.08 142.83,354.31 145.58,355.49 148.34,356.64 151.09,357.74 153.84,358.81 156.60,359.84 159.35,360.84 162.11,361.81 164.86,362.75 167.62,363.66 170.37,364.54 173.12,365.39 175.88,366.23 178.63,367.03 181.39,367.81 184.14,368.58 186.90,369.32 189.65,370.04 192.41,370.74 195.16,371.42 197.91,372.08 200.67,372.73 203.42,373.36 206.18,373.97 208.93,374.57 211.69,375.15 214.44,375.72 217.20,376.28 219.95,376.82 222.70,377.35 225.46,377.87 228.21,378.37 230.97,378.87 233.72,379.35 236.48,379.82 239.23,380.28 241.98,380.74 244.74,381.18 247.49,381.61 250.25,382.04 253.00,382.45 255.76,382.86 258.51,383.25 261.26,383.64 264.02,384.03 266.77,384.40 269.53,384.77 272.28,385.13 275.04,385.48 277.79,385.83 280.55,386.17 283.30,386.50" fill="none" stroke="#0f4fab" stroke-width="1.5"/>
<polyline points="62.95,281.80 65.70,287.27 68.46,292.34 71.21,297.05 73.97,301.44 76.72,305.55 79.48,309.39 82.23,313.00 84.99,316.39 87.74,319.58 90.49,322.59 93.25,325.44 96.00,328.13 98.76,330.69 101.51,333.11 104.27,335.42 107.02,337.61 109.77,339.70 112.53,341.69 115.28,343.60 118.04,345.42 120.79,347.16 123.55,348.83 126.30,350.43 129.06,351.96 131.81,353.43 134.56,354.85 137.32,356.21 140.07,357.52 142.83,358.79 145.58,360.00 148.34,361.18 151.09,362.31 153.84,363.41 156.60,364.46 159.35,365.49 162.11,366.48 164.86,367.43 167.62,368.36 170.37,369.26 173.12,370.13 175.88,370.98 178.63,371.80 181.39,372.59 184.14,373.37 186.90,374.12 189.65,374.85 192.41,375.56 195.16,376.25 197.91,376.92 200.67,377.57 203.42,378.21 206.18,378.83 208.93,379.44 211.69,380.02 214.44,380.60 217.20,381.16 219.95,381.71 222.70,382.24 225.46,382.76 228.21,383.27 230.97,383.77 233.72,384.26 236.48,384.73 239.23,385.19 241.98,385.65 244.74,386.09 247.49,386.53 250.25,386.95 253.00,387.37 255.76,387.78 258.51,388.18 261.26,388.57 264.02,388.95 266.77,389.32 269.53,389.69 272.28,390.05 275.04,390.41 277.79,390.75 280.55,391.09 283.30,391.43" fill="none" stroke="#20c8f8" stroke-width="1.5"/>
<polyline points="62.95,281.80 65.70,287.38 68.46,292.55 71.21,297.35 73.97,301.82 76.72,306.00 79.48,309.90 82.23,313.56 84.99,317.01 87.74,320.25 90.49,323.30 93.25,326.19 96.00,328.92 98.76,331.50 101.51,333.96 104.27,336.29 107.02,338.51 109.77,340.62 112.53,342.64 115.28,344.56 118.04,346.40 120.79,348.16 123.55,349.84 126.30,351.46 129.06,353.00 131.81,354.49 134.56,355.92 137.32,357.29 140.07,358.61 142.83,359.89 145.58,361.11 148.34,362.30 151.09,363.44 153.84,364.54 156.60,365.61 159.35,366.64 162.11,367.63 164.86,368.60 167.62,369.53 170.37,370.43 173.12,371.31 175.88,372.16 178.63,372.98 181.39,373.78 184.14,374.56 186.90,375.32 189.65,376.05 192.41,376.76 195.16,377.46 197.91,378.13 200.67,378.79 203.42,379.43 206.18,380.05 208.93,380.66 211.69,381.25 214.44,381.83 217.20,382.39 219.95,382.94 222.70,383.48 225.46,384.00 228.21,384.51 230.97,385.01 233.72,385.50 236.48,385.97 239.23,386.44 241.98,386.90 244.74,387.34 247.49,387.78 250.25,388.20 253.00,388.62 255.76,389.03 258.51,389.43 261.26,389.82 264.02,390.21 266.77,390.58 269.53,390.95 272.28,391.31 275.04,391.67 277.79,392.01 280.55,392.35 283.30,392.69" fill="none" stroke="#a00e85" stroke-width="1.5"/>
<rect x="70.72" y="283.70" width="4.3" height="5.6" fill="#fc6896"/>
<rect x="81.74" y="292.20" width="4.3" height="5.6" fill="#fc6896"/>
<rect x="92.75" y="298.72" width="4.3" height="5.6" fill="#fc6896"/>
<rect x="103.77" y="304.34" width="4.3" height="5.6" fill="#fc6896"/>
<rect x="114.79" y="309.30" width="4.3" height="5.6" fill="#fc6896"/>
<rect x="125.81" y="313.87" width="4.3" height="5.6" fill="#fc6896"/>
<rect x="136.82" y="318.15" width="4.3" height="5.6" fill="#fc6896"/>
<rect x="147.84" y="322.09" width="4.3" height="5.6" fill="#fc6896"/>
<rect x="158.86" y="325.68" width="4.3" height="5.6" fill="#fc6896"/>
<rect x="169.88" y="328.90" width="4.3" height="5.6" fill="#fc6896"/>
<rect x="180.89" y="331.79" width="4.3" height="5.6" fill="#fc6896"/>
<rect x="191.91" y="334.44" width="4.3" height="5.6" fill="#fc6896"/>
<rect x="202.93" y="336.87" width="4.3" height="5.6" fill="#fc6896"/>
<rect x="213.95" y="339.11" width="4.3" height="5.6" fill="#fc6896"/>
<rect x="224.96" y="341.20" width="4.3" height="5.6" fill="#fc6896"/>
<rect x="235.98" y="343.15" width="4.3" height="5.6" fill="#fc6896"/>
<rect x="247.00" y="344.96" width="4.3" height="5.6" fill="#fc6896"/>
<rect x="258.01" y="346.61" width="4.3" height="5.6" fill="#fc6896"/>
<rect x="269.03" y="348.10" width="4.3" height="5.6" fill="#fc6896"/>
<rect x="70.72" y="285.70" width="4.3" height="5.6" fill="#8c897b"/>
<rect x="81.74" y="296.63" width="4.3" height="5.6" fill="#8c897b"/>
<rect x="92.75" y="305.24" width="4.3" height="5.6" fill="#8c897b"/>
<rect x="103.77" y="312.73" width="4.3" height="5.6" fill="#8c897b"/>
<rect x="114.79" y="319.10" width="4.3" height="5.6" fill="#8c897b"/>
<rect x="125.81" y="324.64" width="4.3" height="5.6" fill="#8c897b"/>
<rect x="136.82" y="329.68" width="4.3" height="5.6" fill="#8c897b"/>
<rect x="147.84" y="334.23" width="4.3" height="5.6" fill="#8c897b"/>
<rect x="158.86" y="338.36" width="4.3" height="5.6" fill="#8c897b"/>
<rect x="169.88" y="342.10" width="4.3" height="5.6" fill="#8c897b"/>
<rect x="180.89" y="345.50" width="4.3" height="5.6" fill="#8c897b"/>
<rect x="191.91" y="348.61" width="4.3" height="5.6" fill="#8c897b"/>
<rect x="202.93" y="351.47" width="4.3" height="5.6" fill="#8c897b"/>
<rect x="213.95" y="354.12" width="4.3" height="5.6" fill="#8c897b"/>
<rect x="224.96" y="356.60" width="4.3" height="5.6" fill="#8c897b"/>
<rect x="235.98" y="358.93" width="4.3" height="5.6" fill="#8c897b"/>
<rect x="247.00" y="361.10" width="4.3" height="5.6" fill="#8c897b"/>
<rect x="258.01" y="363.09" width="4.3" height="5.6" fill="#8c897b"/>
<rect x="269.03" y="364.90" width="4.3" height="5.6" fill="#8c897b"/>
<rect x="70.72" y="286.50" width="4.3" height="5.6" fill="#0f4fab"/>
<rect x="81.74" y="298.44" width="4.3" height="5.6" fill="#0f4fab"/>
<rect x="92.75" y="307.99" width="4.3" height="5.6" fill="#0f4fab"/>
<rect x="103.77" y="316.35" width="4.3" height="5.6" fill="#0f4fab"/>
<rect x="114.79" y="323.50" width="4.3" height="5.6" fill="#0f4fab"/>
<rect x="125.81" y="329.74" width="4.3" height="5.6" fill="#0f4fab"/>
<rect x="136.82" y="335.44" width="4.3" height="5.6" fill="#0f4fab"/>
<rect x="147.84" y="340.61" width="4.3" height="5.6" fill="#0f4fab"/>
<rect x="158.86" y="345.26" width="4.3" height="5.6" fill="#0f4fab"/>
<rect x="169.88" y="349.40" width="4.3" height="5.6" fill="#0f4fab"/>
<rect x="180.89" y="353.09" width="4.3" height="5.6" fill="#0f4fab"/>
<rect x="191.91" y="356.42" width="4.3" height="5.6" fill="#0f4fab"/>
<rect x="202.93" y="359.46" width="4.3" height="5.6" fill="#0f4fab"/>
<rect x="213.95" y="362.29" width="4.3" height="5.6" fill="#0f4fab"/>
<rect x="224.96" y="365.00" width="4.3" height="5.6" fill="#0f4fab"/>
<rect x="235.98" y="367.59" width="4.3" height="5.6" fill="#0f4fab"/>
<rect x="247.00" y="370.03" width="4.3" height="5.6" fill="#0f4fab"/>
<rect x="258.01" y="372.30" width="4.3" height="5.6" fill="#0f4fab"/>
<rect x="269.03" y="374.40" width="4.3" height="5.6" fill="#0f4fab"/>
<rect x="70.72" y="287.50" width="4.3" height="5.6" fill="#20c8f8"/>
<rect x="81.74" y="299.95" width="4.3" height="5.6" fill="#20c8f8"/>
<rect x="92.75" y="309.95" width="4.3" height="5.6" fill="#20c8f8"/>
<rect x="103.77" y="318.73" width="4.3" height="5.6" fill="#20c8f8"/>
<rect x="114.79" y="326.20" width="4.3" height="5.6" fill="#20c8f8"/>
<rect x="125.81" y="332.70" width="4.3" height="5.6" fill="#20c8f8"/>
<rect x="136.82" y="338.61" width="4.3" height="5.6" fill="#20c8f8"/>
<rect x="147.84" y="343.97" width="4.3" height="5.6" fill="#20c8f8"/>
<rect x="158.86" y="348.79" width="4.3" height="5.6" fill="#20c8f8"/>
<rect x="169.88" y="353.10" width="4.3" height="5.6" fill="#20c8f8"/>
<rect x="180.89" y="356.96" width="4.3" height="5.6" fill="#20c8f8"/>
<rect x="191.91" y="360.46" width="4.3" height="5.6" fill="#20c8f8"/>
<rect x="202.93" y="363.66" width="4.3" height="5.6" fill="#20c8f8"/>
<rect x="213.95" y="366.62" width="4.3" height="5.6" fill="#20c8f8"/>
<rect x="224.96" y="369.40" width="4.3" height="5.6" fill="#20c8f8"/>
<rect x="235.98" y="372.03" width="4.3" height="5.6" fill="#20c8f8"/>
<rect x="247.00" y="374.48" width="4.3" height="5.6" fill="#20c8f8"/>
<rect x="258.01" y="376.75" width="4.3" height="5.6" fill="#20c8f8"/>
<rect x="269.03" y="378.80" width="4.3" height="5.6" fill="#20c8f8"/>
<rect x="70.72" y="288.70" width="4.3" height="5.6" fill="#a00e85"/>
<rect x="81.74" y="301.37" width="4.3" height="5.6" fill="#a00e85"/>
<rect x="92.75" y="311.54" width="4.3" height="5.6" fill="#a00e85"/>
<rect x="103.77" y="320.45" width="4.3" height="5.6" fill="#a00e85"/>
<rect x="114.79" y="328.00" width="4.3" height="5.6" fill="#a00e85"/>
<rect x="125.81" y="334.51" width="4.3" height="5.6" fill="#a00e85"/>
<rect x="136.82" y="340.40" width="4.3" height="5.6" fill="#a00e85"/>
<rect x="147.84" y="345.72" width="4.3" height="5.6" fill="#a00e85"/>
<rect x="158.86" y="350.51" width="4.3" height="5.6" fill="#a00e85"/>
<rect x="169.88" y="354.80" width="4.3" height="5.6" fill="#a00e85"/>
<rect x="180.89" y="358.67" width="4.3" height="5.6" fill="#a00e85"/>
<rect x="191.91" y="362.19" width="4.3" height="5.6" fill="#a00e85"/>
<rect x="202.93" y="365.40" width="4.3" height="5.6" fill="#a00e85"/>
<rect x="213.95" y="368.36" width="4.3" height="5.6" fill="#a00e85"/>
<rect x="224.96" y="371.10" width="4.3" height="5.6" fill="#a00e85"/>
<rect x="235.98" y="373.66" width="4.3" height="5.6" fill="#a00e85"/>
<rect x="247.00" y="376.02" width="4.3" height="5.6" fill="#a00e85"/>
<rect x="258.01" y="378.18" width="4.3" height="5.6" fill="#a00e85"/>
<rect x="269.03" y="380.10" width="4.3" height="5.6" fill="#a00e85"/>
<rect x="203.6" y="254.5" width="78.90" height="69.20" rx="5" fill="#fff" stroke="#8a8a8a" stroke-width="1.1"/>
<path d="M209.7,262.30H242.2" stroke="#fc6896" stroke-width="1.6"/>
<rect x="223.15" y="259.30" width="3.4" height="6.0" fill="#fc6896"/>
<text x="248.2" y="265.50" font-family='"Liberation Sans", sans-serif' font-size="10.9" fill="#111" stroke="#111" stroke-width="0.3">p=0.1</text>
<path d="M209.7,275.90H242.2" stroke="#8c897b" stroke-width="1.6"/>
<rect x="223.15" y="272.90" width="3.4" height="6.0" fill="#8c897b"/>
<text x="248.2" y="279.10" font-family='"Liberation Sans", sans-serif' font-size="10.9" fill="#111" stroke="#111" stroke-width="0.3">p=0.2</text>
<path d="M209.7,289.50H242.2" stroke="#0f4fab" stroke-width="1.6"/>
<rect x="223.15" y="286.50" width="3.4" height="6.0" fill="#0f4fab"/>
<text x="248.2" y="292.70" font-family='"Liberation Sans", sans-serif' font-size="10.9" fill="#111" stroke="#111" stroke-width="0.3">p=0.3</text>
<path d="M209.7,303.10H242.2" stroke="#20c8f8" stroke-width="1.6"/>
<rect x="223.15" y="300.10" width="3.4" height="6.0" fill="#20c8f8"/>
<text x="248.2" y="306.30" font-family='"Liberation Sans", sans-serif' font-size="10.9" fill="#111" stroke="#111" stroke-width="0.3">p=0.4</text>
<path d="M209.7,316.70H242.2" stroke="#a00e85" stroke-width="1.6"/>
<rect x="223.15" y="313.70" width="3.4" height="6.0" fill="#a00e85"/>
<text x="248.2" y="319.90" font-family='"Liberation Sans", sans-serif' font-size="10.9" fill="#111" stroke="#111" stroke-width="0.3">p=0.5</text>
<g stroke="#8a8a8a" fill="none">
<path d="M376.5,256.25V408.5" stroke-width="1.0"/>
<path d="M376.5,408.5H589.7" stroke-width="1.0"/>
<path d="M371.70,408.50H376.5" stroke-width="1.0"/>
<path d="M371.70,357.75H376.5" stroke-width="1.0"/>
<path d="M371.70,307.00H376.5" stroke-width="1.0"/>
<path d="M371.70,256.25H376.5" stroke-width="1.0"/>
<path d="M376.50,408.5V412.90" stroke-width="1.0"/>
<path d="M429.80,408.5V412.90" stroke-width="1.0"/>
<path d="M483.10,408.5V412.90" stroke-width="1.0"/>
<path d="M536.40,408.5V412.90" stroke-width="1.0"/>
<path d="M589.70,408.5V412.90" stroke-width="1.0"/>
</g>
<g font-family='"Liberation Sans", sans-serif' font-size="13" fill="#111" stroke="#111" stroke-width="0.3">
<text x="371.00" y="413.50" text-anchor="end">0.0025</text>
<text x="371.00" y="362.75" text-anchor="end">0.0030</text>
<text x="371.00" y="312.00" text-anchor="end">0.0035</text>
<text x="371.00" y="261.25" text-anchor="end">0.0040</text>
<text x="377.10" y="425.30" text-anchor="middle">0.00</text>
<text x="430.40" y="425.30" text-anchor="middle">0.05</text>
<text x="483.70" y="425.30" text-anchor="middle">0.10</text>
<text x="537.00" y="425.30" text-anchor="middle">0.15</text>
<text x="590.30" y="425.30" text-anchor="middle">0.20</text>
</g>
<text x="446.10" y="247.6" font-family='"Liberation Sans", sans-serif' font-weight="bold" font-size="15.5" fill="#111" stroke="#111" stroke-width="0.15" textLength="32.50" lengthAdjust="spacingAndGlyphs">UDU</text>
<text x="482.50" y="247.6" font-family='"Liberation Sans", sans-serif' font-weight="bold" font-size="15.5" fill="#111" stroke="#111" stroke-width="0.15" textLength="8.30" lengthAdjust="spacingAndGlyphs">–</text>
<text x="495.00" y="247.6" font-family='"Liberation Sans", sans-serif' font-weight="bold" font-size="15.5" fill="#111" stroke="#111" stroke-width="0.15" textLength="16.60" lengthAdjust="spacingAndGlyphs">SF</text>
<text x="306.40" y="242.5" font-family='"Liberation Sans", sans-serif' font-weight="bold" font-size="16.3" fill="#111" textLength="12.10" lengthAdjust="spacingAndGlyphs">D</text>
<text x="318.0" y="240.9" font-family='"Liberation Sans", sans-serif' font-size="14.5" fill="#111" stroke="#111" stroke-width="0.15">)</text>
<g transform="translate(483.50,430.40)" fill="none" stroke="#111" stroke-linecap="round"><circle cx="-2.55" cy="1.3" r="1.1" fill="#111" stroke="none"/><path d="M-2.6,1.2C-1.3,1.2 -0.4,3.2 0.3,6.6" stroke-width="1.1"/><path d="M2.75,0.95L0.45,6.6" stroke-width="1.6"/><path d="M0.35,6.6L0.05,10.5" stroke-width="0.95"/><ellipse cx="0.0" cy="11.5" rx="0.9" ry="1.55" fill="#111" stroke="none"/></g>
<text transform="translate(320.0,332.4) rotate(-90)" font-family='"Liberation Sans", sans-serif' font-size="16.7" fill="#111" text-anchor="middle">β<tspan font-size="13.0" dx="-1.6" dy="4.5">c</tspan></text>
<polyline points="376.50,272.10 379.17,275.33 381.83,278.36 384.50,281.22 387.16,283.91 389.82,286.46 392.49,288.87 395.16,291.15 397.82,293.31 400.49,295.37 403.15,297.33 405.81,299.19 408.48,300.97 411.14,302.66 413.81,304.28 416.48,305.84 419.14,307.32 421.81,308.74 424.47,310.11 427.13,311.42 429.80,312.68 432.47,313.89 435.13,315.06 437.80,316.18 440.46,317.26 443.12,318.30 445.79,319.31 448.46,320.28 451.12,321.22 453.79,322.13 456.45,323.01 459.12,323.86 461.78,324.68 464.45,325.48 467.11,326.25 469.78,327.00 472.44,327.73 475.11,328.43 477.77,329.12 480.44,329.79 483.10,330.43 485.76,331.06 488.43,331.67 491.10,332.27 493.76,332.85 496.43,333.41 499.09,333.96 501.75,334.50 504.42,335.02 507.09,335.53 509.75,336.03 512.41,336.51 515.08,336.98 517.75,337.44 520.41,337.89 523.08,338.33 525.74,338.76 528.41,339.19 531.07,339.60 533.74,340.00 536.40,340.39 539.07,340.77 541.73,341.15 544.39,341.52 547.06,341.88 549.73,342.23 552.39,342.58 555.06,342.92 557.72,343.25 560.38,343.57 563.05,343.89 565.72,344.20 568.38,344.51 571.05,344.81 573.71,345.11 576.38,345.40 579.04,345.68 581.71,345.96 584.37,346.23 587.04,346.50 589.70,346.76" fill="none" stroke="#fc6896" stroke-width="1.5"/>
<polyline points="376.50,272.10 379.17,276.41 381.83,280.44 384.50,284.22 387.16,287.78 389.82,291.13 392.49,294.28 395.16,297.27 397.82,300.09 400.49,302.77 403.15,305.30 405.81,307.72 408.48,310.01 411.14,312.20 413.81,314.29 416.48,316.28 419.14,318.18 421.81,320.00 424.47,321.75 427.13,323.42 429.80,325.02 432.47,326.56 435.13,328.04 437.80,329.46 440.46,330.83 443.12,332.15 445.79,333.42 448.46,334.65 451.12,335.83 453.79,336.98 456.45,338.08 459.12,339.15 461.78,340.18 464.45,341.18 467.11,342.15 469.78,343.09 472.44,344.00 475.11,344.88 477.77,345.73 480.44,346.56 483.10,347.37 485.76,348.15 488.43,348.91 491.10,349.65 493.76,350.37 496.43,351.07 499.09,351.76 501.75,352.42 504.42,353.07 507.09,353.70 509.75,354.31 512.41,354.91 515.08,355.50 517.75,356.07 520.41,356.62 523.08,357.17 525.74,357.70 528.41,358.21 531.07,358.72 533.74,359.22 536.40,359.70 539.07,360.17 541.73,360.63 544.39,361.09 547.06,361.53 549.73,361.96 552.39,362.39 555.06,362.80 557.72,363.21 560.38,363.61 563.05,364.00 565.72,364.38 568.38,364.76 571.05,365.13 573.71,365.49 576.38,365.84 579.04,366.19 581.71,366.53 584.37,366.86 587.04,367.19 589.70,367.51" fill="none" stroke="#8c897b" stroke-width="1.5"/>
<polyline points="376.50,272.10 379.17,276.98 381.83,281.54 384.50,285.82 387.16,289.83 389.82,293.61 392.49,297.16 395.16,300.52 397.82,303.70 400.49,306.70 403.15,309.55 405.81,312.26 408.48,314.84 411.14,317.29 413.81,319.62 416.48,321.85 419.14,323.98 421.81,326.01 424.47,327.96 427.13,329.83 429.80,331.62 432.47,333.34 435.13,334.99 437.80,336.57 440.46,338.10 443.12,339.57 445.79,340.98 448.46,342.35 451.12,343.67 453.79,344.94 456.45,346.16 459.12,347.35 461.78,348.50 464.45,349.61 467.11,350.68 469.78,351.72 472.44,352.73 475.11,353.71 477.77,354.66 480.44,355.58 483.10,356.47 485.76,357.34 488.43,358.18 491.10,359.00 493.76,359.80 496.43,360.58 499.09,361.33 501.75,362.07 504.42,362.78 507.09,363.48 509.75,364.16 512.41,364.82 515.08,365.47 517.75,366.10 520.41,366.71 523.08,367.31 525.74,367.90 528.41,368.47 531.07,369.03 533.74,369.58 536.40,370.11 539.07,370.64 541.73,371.15 544.39,371.65 547.06,372.14 549.73,372.61 552.39,373.08 555.06,373.54 557.72,373.99 560.38,374.43 563.05,374.86 565.72,375.28 568.38,375.70 571.05,376.10 573.71,376.50 576.38,376.89 579.04,377.27 581.71,377.65 584.37,378.02 587.04,378.38 589.70,378.73" fill="none" stroke="#0f4fab" stroke-width="1.5"/>
<polyline points="376.50,272.10 379.17,277.22 381.83,282.00 384.50,286.49 387.16,290.70 389.82,294.66 392.49,298.40 395.16,301.93 397.82,305.27 400.49,308.43 403.15,311.43 405.81,314.27 408.48,316.98 411.14,319.56 413.81,322.02 416.48,324.37 419.14,326.61 421.81,328.76 424.47,330.81 427.13,332.78 429.80,334.67 432.47,336.48 435.13,338.22 437.80,339.89 440.46,341.50 443.12,343.05 445.79,344.55 448.46,345.99 451.12,347.38 453.79,348.72 456.45,350.02 459.12,351.27 461.78,352.48 464.45,353.65 467.11,354.79 469.78,355.89 472.44,356.96 475.11,357.99 477.77,358.99 480.44,359.97 483.10,360.91 485.76,361.83 488.43,362.72 491.10,363.59 493.76,364.43 496.43,365.25 499.09,366.05 501.75,366.83 504.42,367.59 507.09,368.32 509.75,369.04 512.41,369.74 515.08,370.43 517.75,371.09 520.41,371.75 523.08,372.38 525.74,373.00 528.41,373.61 531.07,374.20 533.74,374.78 536.40,375.35 539.07,375.90 541.73,376.44 544.39,376.97 547.06,377.49 549.73,377.99 552.39,378.49 555.06,378.98 557.72,379.45 560.38,379.92 563.05,380.37 565.72,380.82 568.38,381.26 571.05,381.69 573.71,382.11 576.38,382.52 579.04,382.93 581.71,383.33 584.37,383.72 587.04,384.10 589.70,384.48" fill="none" stroke="#20c8f8" stroke-width="1.5"/>
<polyline points="376.50,272.10 379.17,277.51 381.83,282.55 384.50,287.26 387.16,291.66 389.82,295.79 392.49,299.67 395.16,303.32 397.82,306.77 400.49,310.02 403.15,313.10 405.81,316.02 408.48,318.79 411.14,321.42 413.81,323.92 416.48,326.30 419.14,328.58 421.81,330.75 424.47,332.82 427.13,334.81 429.80,336.71 432.47,338.53 435.13,340.27 437.80,341.95 440.46,343.56 443.12,345.11 445.79,346.60 448.46,348.04 451.12,349.43 453.79,350.76 456.45,352.05 459.12,353.29 461.78,354.49 464.45,355.66 467.11,356.78 469.78,357.87 472.44,358.92 475.11,359.94 477.77,360.93 480.44,361.89 483.10,362.82 485.76,363.72 488.43,364.60 491.10,365.45 493.76,366.28 496.43,367.09 499.09,367.87 501.75,368.63 504.42,369.37 507.09,370.10 509.75,370.80 512.41,371.49 515.08,372.15 517.75,372.81 520.41,373.44 523.08,374.06 525.74,374.67 528.41,375.26 531.07,375.83 533.74,376.40 536.40,376.95 539.07,377.49 541.73,378.01 544.39,378.53 547.06,379.03 549.73,379.52 552.39,380.00 555.06,380.47 557.72,380.94 560.38,381.39 563.05,381.83 565.72,382.26 568.38,382.69 571.05,383.11 573.71,383.51 576.38,383.91 579.04,384.31 581.71,384.69 584.37,385.07 587.04,385.44 589.70,385.80" fill="none" stroke="#a00e85" stroke-width="1.5"/>
<rect x="383.91" y="275.90" width="4.3" height="5.6" fill="#fc6896"/>
<rect x="394.57" y="282.94" width="4.3" height="5.6" fill="#fc6896"/>
<rect x="405.23" y="288.89" width="4.3" height="5.6" fill="#fc6896"/>
<rect x="415.89" y="294.26" width="4.3" height="5.6" fill="#fc6896"/>
<rect x="426.55" y="299.00" width="4.3" height="5.6" fill="#fc6896"/>
<rect x="437.21" y="303.27" width="4.3" height="5.6" fill="#fc6896"/>
<rect x="447.87" y="307.24" width="4.3" height="5.6" fill="#fc6896"/>
<rect x="458.53" y="310.90" width="4.3" height="5.6" fill="#fc6896"/>
<rect x="469.19" y="314.26" width="4.3" height="5.6" fill="#fc6896"/>
<rect x="479.85" y="317.30" width="4.3" height="5.6" fill="#fc6896"/>
<rect x="490.51" y="320.06" width="4.3" height="5.6" fill="#fc6896"/>
<rect x="501.17" y="322.60" width="4.3" height="5.6" fill="#fc6896"/>
<rect x="511.83" y="324.95" width="4.3" height="5.6" fill="#fc6896"/>
<rect x="522.49" y="327.14" width="4.3" height="5.6" fill="#fc6896"/>
<rect x="533.15" y="329.20" width="4.3" height="5.6" fill="#fc6896"/>
<rect x="543.81" y="331.15" width="4.3" height="5.6" fill="#fc6896"/>
<rect x="554.47" y="332.97" width="4.3" height="5.6" fill="#fc6896"/>
<rect x="565.13" y="334.66" width="4.3" height="5.6" fill="#fc6896"/>
<rect x="575.79" y="336.20" width="4.3" height="5.6" fill="#fc6896"/>
<rect x="383.91" y="278.00" width="4.3" height="5.6" fill="#8c897b"/>
<rect x="394.57" y="287.11" width="4.3" height="5.6" fill="#8c897b"/>
<rect x="405.23" y="294.90" width="4.3" height="5.6" fill="#8c897b"/>
<rect x="415.89" y="301.96" width="4.3" height="5.6" fill="#8c897b"/>
<rect x="426.55" y="308.10" width="4.3" height="5.6" fill="#8c897b"/>
<rect x="437.21" y="313.49" width="4.3" height="5.6" fill="#8c897b"/>
<rect x="447.87" y="318.45" width="4.3" height="5.6" fill="#8c897b"/>
<rect x="458.53" y="322.98" width="4.3" height="5.6" fill="#8c897b"/>
<rect x="469.19" y="327.10" width="4.3" height="5.6" fill="#8c897b"/>
<rect x="479.85" y="330.80" width="4.3" height="5.6" fill="#8c897b"/>
<rect x="490.51" y="334.12" width="4.3" height="5.6" fill="#8c897b"/>
<rect x="501.17" y="337.15" width="4.3" height="5.6" fill="#8c897b"/>
<rect x="511.83" y="339.93" width="4.3" height="5.6" fill="#8c897b"/>
<rect x="522.49" y="342.52" width="4.3" height="5.6" fill="#8c897b"/>
<rect x="533.15" y="345.00" width="4.3" height="5.6" fill="#8c897b"/>
<rect x="543.81" y="347.37" width="4.3" height="5.6" fill="#8c897b"/>
<rect x="554.47" y="349.60" width="4.3" height="5.6" fill="#8c897b"/>
<rect x="565.13" y="351.68" width="4.3" height="5.6" fill="#8c897b"/>
<rect x="575.79" y="353.60" width="4.3" height="5.6" fill="#8c897b"/>
<rect x="383.91" y="278.90" width="4.3" height="5.6" fill="#0f4fab"/>
<rect x="394.57" y="289.01" width="4.3" height="5.6" fill="#0f4fab"/>
<rect x="405.23" y="297.72" width="4.3" height="5.6" fill="#0f4fab"/>
<rect x="415.89" y="305.63" width="4.3" height="5.6" fill="#0f4fab"/>
<rect x="426.55" y="312.50" width="4.3" height="5.6" fill="#0f4fab"/>
<rect x="437.21" y="318.51" width="4.3" height="5.6" fill="#0f4fab"/>
<rect x="447.87" y="324.02" width="4.3" height="5.6" fill="#0f4fab"/>
<rect x="458.53" y="329.05" width="4.3" height="5.6" fill="#0f4fab"/>
<rect x="469.19" y="333.64" width="4.3" height="5.6" fill="#0f4fab"/>
<rect x="479.85" y="337.80" width="4.3" height="5.6" fill="#0f4fab"/>
<rect x="490.51" y="341.59" width="4.3" height="5.6" fill="#0f4fab"/>
<rect x="501.17" y="345.07" width="4.3" height="5.6" fill="#0f4fab"/>
<rect x="511.83" y="348.28" width="4.3" height="5.6" fill="#0f4fab"/>
<rect x="522.49" y="351.25" width="4.3" height="5.6" fill="#0f4fab"/>
<rect x="533.15" y="354.00" width="4.3" height="5.6" fill="#0f4fab"/>
<rect x="543.81" y="356.57" width="4.3" height="5.6" fill="#0f4fab"/>
<rect x="554.47" y="358.95" width="4.3" height="5.6" fill="#0f4fab"/>
<rect x="565.13" y="361.14" width="4.3" height="5.6" fill="#0f4fab"/>
<rect x="575.79" y="363.10" width="4.3" height="5.6" fill="#0f4fab"/>
<rect x="383.91" y="279.70" width="4.3" height="5.6" fill="#20c8f8"/>
<rect x="394.57" y="290.38" width="4.3" height="5.6" fill="#20c8f8"/>
<rect x="405.23" y="299.59" width="4.3" height="5.6" fill="#20c8f8"/>
<rect x="415.89" y="307.96" width="4.3" height="5.6" fill="#20c8f8"/>
<rect x="426.55" y="315.20" width="4.3" height="5.6" fill="#20c8f8"/>
<rect x="437.21" y="321.50" width="4.3" height="5.6" fill="#20c8f8"/>
<rect x="447.87" y="327.27" width="4.3" height="5.6" fill="#20c8f8"/>
<rect x="458.53" y="332.54" width="4.3" height="5.6" fill="#20c8f8"/>
<rect x="469.19" y="337.31" width="4.3" height="5.6" fill="#20c8f8"/>
<rect x="479.85" y="341.60" width="4.3" height="5.6" fill="#20c8f8"/>
<rect x="490.51" y="345.49" width="4.3" height="5.6" fill="#20c8f8"/>
<rect x="501.17" y="349.06" width="4.3" height="5.6" fill="#20c8f8"/>
<rect x="511.83" y="352.33" width="4.3" height="5.6" fill="#20c8f8"/>
<rect x="522.49" y="355.33" width="4.3" height="5.6" fill="#20c8f8"/>
<rect x="533.15" y="358.10" width="4.3" height="5.6" fill="#20c8f8"/>
<rect x="543.81" y="360.67" width="4.3" height="5.6" fill="#20c8f8"/>
<rect x="554.47" y="363.04" width="4.3" height="5.6" fill="#20c8f8"/>
<rect x="565.13" y="365.19" width="4.3" height="5.6" fill="#20c8f8"/>
<rect x="575.79" y="367.10" width="4.3" height="5.6" fill="#20c8f8"/>
<rect x="383.91" y="280.40" width="4.3" height="5.6" fill="#a00e85"/>
<rect x="394.57" y="291.14" width="4.3" height="5.6" fill="#a00e85"/>
<rect x="405.23" y="300.42" width="4.3" height="5.6" fill="#a00e85"/>
<rect x="415.89" y="308.87" width="4.3" height="5.6" fill="#a00e85"/>
<rect x="426.55" y="316.20" width="4.3" height="5.6" fill="#a00e85"/>
<rect x="437.21" y="322.63" width="4.3" height="5.6" fill="#a00e85"/>
<rect x="447.87" y="328.55" width="4.3" height="5.6" fill="#a00e85"/>
<rect x="458.53" y="333.96" width="4.3" height="5.6" fill="#a00e85"/>
<rect x="469.19" y="338.85" width="4.3" height="5.6" fill="#a00e85"/>
<rect x="479.85" y="343.20" width="4.3" height="5.6" fill="#a00e85"/>
<rect x="490.51" y="347.08" width="4.3" height="5.6" fill="#a00e85"/>
<rect x="501.17" y="350.60" width="4.3" height="5.6" fill="#a00e85"/>
<rect x="511.83" y="353.83" width="4.3" height="5.6" fill="#a00e85"/>
<rect x="522.49" y="356.81" width="4.3" height="5.6" fill="#a00e85"/>
<rect x="533.15" y="359.60" width="4.3" height="5.6" fill="#a00e85"/>
<rect x="543.81" y="362.24" width="4.3" height="5.6" fill="#a00e85"/>
<rect x="554.47" y="364.69" width="4.3" height="5.6" fill="#a00e85"/>
<rect x="565.13" y="366.95" width="4.3" height="5.6" fill="#a00e85"/>
<rect x="575.79" y="369.00" width="4.3" height="5.6" fill="#a00e85"/>
<rect x="512.1" y="253.75" width="78.60" height="69.50" rx="5" fill="#fff" stroke="#8a8a8a" stroke-width="1.1"/>
<path d="M517.1,262.30H550.8" stroke="#fc6896" stroke-width="1.6"/>
<rect x="531.15" y="259.30" width="3.4" height="6.0" fill="#fc6896"/>
<text x="556.6" y="265.50" font-family='"Liberation Sans", sans-serif' font-size="10.9" fill="#111" stroke="#111" stroke-width="0.3">p=0.1</text>
<path d="M517.1,275.90H550.8" stroke="#8c897b" stroke-width="1.6"/>
<rect x="531.15" y="272.90" width="3.4" height="6.0" fill="#8c897b"/>
<text x="556.6" y="279.10" font-family='"Liberation Sans", sans-serif' font-size="10.9" fill="#111" stroke="#111" stroke-width="0.3">p=0.2</text>
<path d="M517.1,289.50H550.8" stroke="#0f4fab" stroke-width="1.6"/>
<rect x="531.15" y="286.50" width="3.4" height="6.0" fill="#0f4fab"/>
<text x="556.6" y="292.70" font-family='"Liberation Sans", sans-serif' font-size="10.9" fill="#111" stroke="#111" stroke-width="0.3">p=0.3</text>
<path d="M517.1,303.10H550.8" stroke="#20c8f8" stroke-width="1.6"/>
<rect x="531.15" y="300.10" width="3.4" height="6.0" fill="#20c8f8"/>
<text x="556.6" y="306.30" font-family='"Liberation Sans", sans-serif' font-size="10.9" fill="#111" stroke="#111" stroke-width="0.3">p=0.4</text>
<path d="M517.1,316.70H550.8" stroke="#a00e85" stroke-width="1.6"/>
<rect x="531.15" y="313.70" width="3.4" height="6.0" fill="#a00e85"/>
<text x="556.6" y="319.90" font-family='"Liberation Sans", sans-serif' font-size="10.9" fill="#111" stroke="#111" stroke-width="0.3">p=0.5</text>
</svg></body></html>
